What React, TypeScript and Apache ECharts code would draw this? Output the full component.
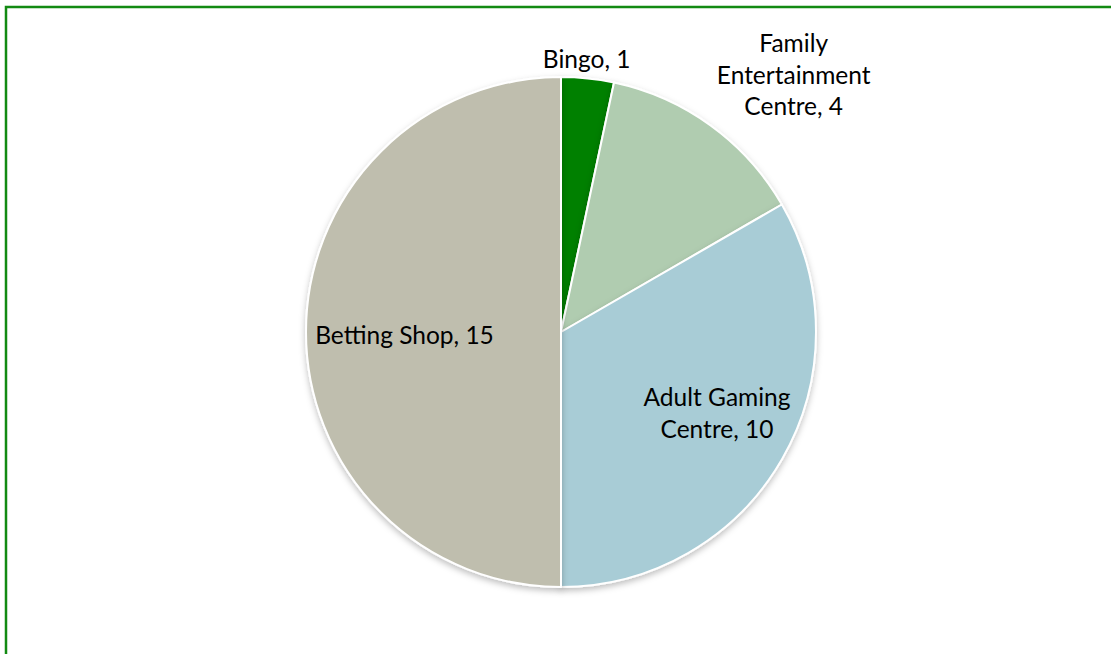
import React, { useEffect, useRef } from "react";
import * as echarts from "echarts";

const categories = ["Bingo", "Family\nEntertainment\nCentre", "Adult Gaming\nCentre", "Betting Shop"];
const values = [1, 4, 10, 15];
const colors = ["#008000", "#b0ccb0", "#a8ccd6", "#bfbeae"];
const labelOffsets: number[][] = [
  [12, -144],
  [156, -152],
  [43, 15],
  [-26, 2],
];

export default function App() {
  const ref = useRef<HTMLDivElement>(null);
  useEffect(() => {
    document.body.style.margin = "0";
    const chart = echarts.init(ref.current!, null, { renderer: "svg" });
    chart.setOption({
      animation: false,
      backgroundColor: "#ffffff",
      graphic: [
        {
          type: "rect",
          shape: { x: 6, y: 7, width: 1300, height: 900 },
          style: { fill: "none", stroke: "#138a13", lineWidth: 2.5 },
          silent: true,
        },
      ],
      series: [
        {
          type: "pie",
          center: [561, 332],
          radius: [0, 255],
          startAngle: 90,
          clockwise: true,
          avoidLabelOverlap: false,
          itemStyle: {
            borderColor: "#ffffff",
            borderWidth: 2,
            shadowBlur: 6,
            shadowOffsetY: 3,
            shadowColor: "rgba(0,0,0,0.25)",
          },
          labelLine: { show: false },
          label: {
            show: true,
            position: "inside",
            color: "#000000",
            fontFamily: "Lato",
            fontSize: 24.5,
            lineHeight: 31.5,
            align: "center",
            formatter: (p: any) => `${p.name}, ${p.value}`,
          },
          emphasis: { disabled: true },
          data: categories.map((name, i) => ({
            name,
            value: values[i],
            itemStyle: { color: colors[i] },
            label: { offset: labelOffsets[i] },
          })),
        },
      ],
    });
    return () => chart.dispose();
  }, []);
  return <div ref={ref} style={{ width: 1111, height: 654 }} />;
}
